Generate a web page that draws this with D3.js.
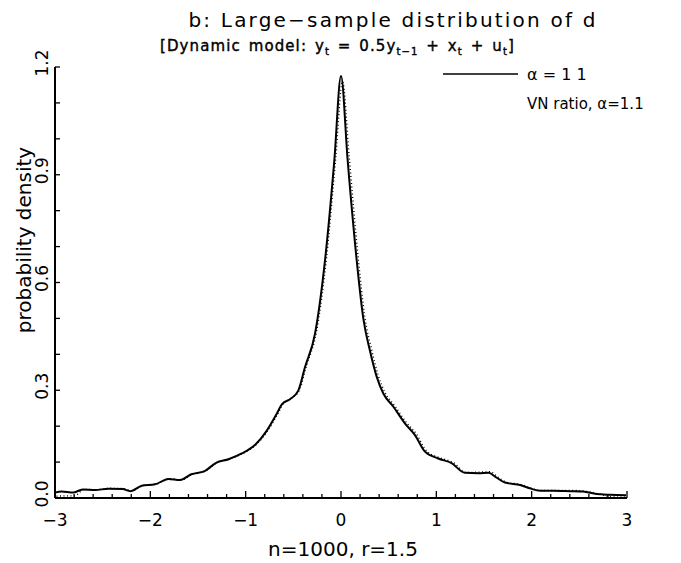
<!DOCTYPE html>
<html>
<head>
<meta charset="utf-8">
<script src="https://cdn.jsdelivr.net/npm/d3@7"></script>
<style>
  body { margin: 0; background: #fff; }
  text { font-family: "DejaVu Sans", sans-serif; fill: #000; }
</style>
</head>
<body>
<div id="chart"></div>
<script>
// Large-sample density of d, dynamic model

const width = 681;
const height = 563;
const margin = {top: 67, right: 54, bottom: 65, left: 55};

const xTicks = [-3, -2, -1, 0, 1, 2, 3];
const yTicks = [0.0, 0.3, 0.6, 0.9, 1.2];
const yTickLabels = ["0.0", "0.3", "0.6", "0.9", "1.2"];

const xs = [-3, -2.93, -2.81, -2.71, -2.58, -2.44, -2.29, -2.21, -2.09, -1.95, -1.81, -1.69,
  -1.57, -1.43, -1.31, -1.18, -1.04, -0.90, -0.78, -0.675, -0.62, -0.535, -0.448, -0.378,
  -0.273, -0.168, -0.07, 0, 0.07, 0.165, 0.234, 0.304, 0.374, 0.444, 0.55, 0.67, 0.776,
  0.881, 1.02, 1.16, 1.30, 1.44, 1.55, 1.62, 1.72, 1.88, 1.98, 2.09, 2.23, 2.40, 2.54,
  2.68, 2.82, 2.99];

// alpha = 1.1 (solid)
const alphaValues = [0.015, 0.018, 0.015, 0.024, 0.022, 0.026, 0.025, 0.019, 0.034, 0.038,
  0.053, 0.050, 0.066, 0.075, 0.098, 0.108, 0.124, 0.148, 0.187, 0.234, 0.261, 0.275, 0.299,
  0.364, 0.457, 0.661, 0.94, 1.175, 0.94, 0.661, 0.50, 0.41, 0.338, 0.291, 0.254, 0.208,
  0.175, 0.129, 0.110, 0.097, 0.070, 0.069, 0.070, 0.059, 0.043, 0.036, 0.027, 0.020, 0.020,
  0.019, 0.018, 0.011, 0.009, 0.008];

// VN ratio, alpha = 1.1 (dotted, almost on top of the solid line)
const vnValues = [0.005, 0.006, 0.006, 0.024, 0.023, 0.027, 0.026, 0.019, 0.035, 0.039,
  0.054, 0.050, 0.067, 0.076, 0.100, 0.109, 0.125, 0.150, 0.189, 0.236, 0.263, 0.278, 0.303,
  0.368, 0.462, 0.668, 0.95, 1.16, 0.95, 0.668, 0.505, 0.415, 0.342, 0.295, 0.256, 0.210,
  0.178, 0.131, 0.112, 0.099, 0.071, 0.072, 0.073, 0.060, 0.044, 0.037, 0.027, 0.021, 0.021,
  0.021, 0.019, 0.012, 0.003, 0.002];

const svg = d3.select("#chart")
    .append("svg")
    .attr("width", width)
    .attr("height", height);

const innerWidth = width - margin.left - margin.right;
const innerHeight = height - margin.top - margin.bottom;

const g = svg.append("g")
    .attr("transform", `translate(${margin.left}, ${margin.top})`);

const x = d3.scaleLinear().domain([-3, 3]).range([0, innerWidth]);
const y = d3.scaleLinear().domain([0, 1.2]).range([innerHeight, 0]);

// x axis: minor ticks every 0.2, longer ones at integers
const xAxis = g.append("g").attr("transform", `translate(0, ${innerHeight})`);
xAxis.append("line")
    .attr("x1", 0).attr("x2", innerWidth)
    .attr("stroke", "#000").attr("stroke-width", 2);
xAxis.selectAll(".minor")
    .data(d3.range(-15, 16).map(i => i * 0.2))
    .join("line")
    .attr("x1", d => x(d)).attr("x2", d => x(d))
    .attr("y1", 0)
    .attr("y2", (d, i) => (i % 5 === 0 ? -7 : -4))
    .attr("stroke", "#000").attr("stroke-width", 1.3);

// tick labels placed on the svg itself
svg.append("g").selectAll("text")
    .data(xTicks)
    .join("text")
    .attr("x", d => margin.left + x(d))
    .attr("y", margin.top + innerHeight + 28)
    .attr("text-anchor", "middle")
    .style("font-size", "17px")
    .text(d => (d < 0 ? "\u2212" + Math.abs(d) : String(d)));

// y axis: ticks every 0.1
const yAxis = g.append("g");
yAxis.append("line")
    .attr("y1", 0).attr("y2", innerHeight)
    .attr("stroke", "#000").attr("stroke-width", 2);
yAxis.selectAll(".minor")
    .data(d3.range(0, 13).map(i => i * 0.1))
    .join("line")
    .attr("y1", d => y(d)).attr("y2", d => y(d))
    .attr("x1", 0).attr("x2", 5)
    .attr("stroke", "#000").attr("stroke-width", 1.3);

svg.append("g").selectAll("text")
    .data(yTicks)
    .join("text")
    .attr("transform", d => `translate(${margin.left - 7}, ${margin.top + y(d) - 4}) rotate(-90)`)
    .attr("text-anchor", "middle")
    .style("font-size", "17px")
    .text((d, i) => yTickLabels[i]);

// curves
const line = d3.line()
    .x(d => x(d[0]))
    .y(d => y(d[1]))
    .curve(d3.curveMonotoneX);

g.append("path")
    .datum(xs.map((v, i) => [v, vnValues[i]]))
    .attr("d", line)
    .attr("fill", "none")
    .attr("stroke", "#000")
    .attr("stroke-width", 1.4)
    .attr("stroke-dasharray", "1,2.5")
    .attr("transform", "translate(1.5, 0)");

g.append("path")
    .datum(xs.map((v, i) => [v, alphaValues[i]]))
    .attr("d", line)
    .attr("fill", "none")
    .attr("stroke", "#000")
    .attr("stroke-width", 2);

// titles
svg.append("text")
    .attr("x", 393).attr("y", 27)
    .attr("text-anchor", "middle")
    .style("font-size", "20px")
    .style("letter-spacing", "2.2px")
    .text("b: Large\u2212sample distribution of d");

const sub = svg.append("text")
    .attr("x", 160).attr("y", 51)
    .style("font-size", "15px")
    .style("letter-spacing", "1.1px")
    .style("word-spacing", "2px")
    .style("stroke", "#000")
    .style("stroke-width", "0.4px");
sub.append("tspan").text("[Dynamic model:  y");
sub.append("tspan").attr("dy", 4).style("font-size", "10px").text("t");
sub.append("tspan").attr("dy", -4).text(" = 0.5y");
sub.append("tspan").attr("dy", 4).style("font-size", "10px").text("t\u22121");
sub.append("tspan").attr("dy", -4).text(" + x");
sub.append("tspan").attr("dy", 4).style("font-size", "10px").text("t");
sub.append("tspan").attr("dy", -4).text(" + u");
sub.append("tspan").attr("dy", 4).style("font-size", "10px").text("t");
sub.append("tspan").attr("dy", -4).text("]");

// legend
svg.append("line")
    .attr("x1", 443).attr("x2", 518)
    .attr("y1", 74).attr("y2", 74)
    .attr("stroke", "#000").attr("stroke-width", 1.5);
svg.append("text")
    .attr("x", 527).attr("y", 80)
    .style("font-size", "16px")
    .text("\u03b1 = 1 1");
svg.append("text")
    .attr("x", 527).attr("y", 109)
    .style("font-size", "15px")
    .text("VN ratio, \u03b1=1.1");

// axis titles
svg.append("text")
    .attr("transform", "translate(31, 240) rotate(-90)")
    .attr("text-anchor", "middle")
    .style("font-size", "20px")
    .text("probability density");

svg.append("text")
    .attr("x", 343).attr("y", 556)
    .attr("text-anchor", "middle")
    .style("font-size", "20px")
    .text("n=1000, r=1.5");
</script>
</body>
</html>
